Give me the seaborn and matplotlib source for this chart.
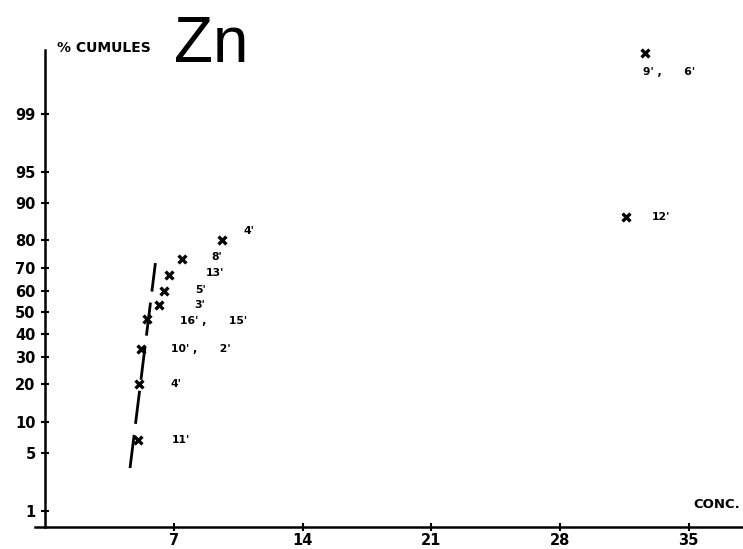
import numpy as np
import matplotlib
matplotlib.use("Agg")
import matplotlib.pyplot as plt
import seaborn as sns
from statistics import NormalDist

sns.set_theme(style="ticks")
plt.rcParams['font.family'] = ['DejaVu Sans']
plt.rcParams['text.color'] = 'black'
plt.rcParams['xtick.color'] = 'black'
plt.rcParams['ytick.color'] = 'black'

# ---- data ----
conc = [5.06, 5.11, 5.22, 5.55, 6.17, 6.46, 6.75, 7.45, 9.6, 31.6, 32.6]
cum_pct = [6.7, 20.0, 33.3, 46.7, 53.3, 60.0, 66.7, 73.3, 80.0, 86.7, 99.88]
point_labels = ["11'", "4'", "10' ,      2'", "16' ,      15'", "3'", "5'", "13'", "8'", "4'",
                "12'", "9' ,      6'"]
fit_x = [4.61, 5.99]
fit_pct = [3.4, 71.8]
y_ticks = [1, 5, 10, 20, 30, 40, 50, 60, 70, 80, 90, 95, 99]
x_ticks = [7, 14, 21, 28, 35]

# label offsets in pixels (dx, dy) - layout only
label_offsets = [(34, 0), (31, 0), (30, 0), (33, -2), (36, 0), (31, 1), (36, 2),
                 (29, 2), (22, 9), (26, 0), (-2, -19)]

ND = NormalDist()
_inv_cdf = np.vectorize(lambda v: ND.inv_cdf(v) if np.isfinite(v) else np.nan,
                        otypes=[float])
_cdf = np.vectorize(lambda v: ND.cdf(v) if np.isfinite(v) else (1.0 if v > 0 else 0.0),
                    otypes=[float])

def fwd(p):
    p = np.asarray(p, dtype=float)
    p = np.where(np.isfinite(p), np.clip(p, 1e-9, 100 - 1e-9), np.nan)
    return _inv_cdf(p / 100.0)

def inv(z):
    z = np.asarray(z, dtype=float)
    return _cdf(z) * 100.0

fig = plt.figure(figsize=(7.43, 5.49), dpi=100)
ax = fig.add_axes([0.0476, 0.0401, 0.951, 0.869])
ax.set_yscale('function', functions=(fwd, inv))
ax.set_xlim(-0.54, 37.9)
ax.set_ylim(0.592, 99.895)

sns.lineplot(x=fit_x, y=fit_pct, ax=ax, color='black', lw=2.0, sort=False,
             errorbar=None)
ax.lines[-1].set_dashes((12, 4))
sns.scatterplot(x=conc, y=cum_pct, ax=ax, marker='x', s=32, color='black',
                linewidth=2.4, clip_on=False, zorder=5)

for x, y, lab, (dx, dy) in zip(conc, cum_pct, point_labels, label_offsets):
    ax.annotate(lab, (x, y), xytext=(dx, dy), textcoords='offset pixels',
                ha='left', va='center', fontsize=7.8, fontweight='bold',
                color='black', annotation_clip=False)

for s in ['top', 'right']:
    ax.spines[s].set_visible(False)
for s in ['left', 'bottom']:
    ax.spines[s].set_color('black')
    ax.spines[s].set_linewidth(1.8)
ax.spines['left'].set_position(('data', 0))

ax.set_yticks(y_ticks)
ax.set_yticklabels([str(t) for t in y_ticks])
ax.yaxis.set_minor_locator(matplotlib.ticker.NullLocator())
ax.set_xticks(x_ticks)
ax.set_xticklabels([str(t) for t in x_ticks])
ax.set_xlim(-0.54, 37.9)
ax.set_ylim(0.592, 99.895)
ax.tick_params(axis='both', which='major', direction='inout', length=6, width=1.5,
               colors='black', labelsize=10.5, left=True, bottom=True)
ax.tick_params(axis='y', pad=4)
ax.tick_params(axis='x', pad=1.5)
for lab in ax.get_xticklabels() + ax.get_yticklabels():
    lab.set_fontweight('bold')
ax.set_xlabel('')
ax.set_ylabel('')
ax.grid(False)

fig.text(57 / 743, 1 - 48 / 549, '% CUMULES', fontsize=10, fontweight='bold',
         ha='left', va='center', color='black')
fig.text(174 / 743, 1 - 62 / 549, 'Zn', fontsize=46, fontfamily='Liberation Sans',
         ha='left', va='baseline', color='black')
fig.text(740 / 743, 1 - 504 / 549, 'CONC.', fontsize=9.5, fontweight='bold',
         ha='right', va='center', color='black')

fig.savefig('out.png', dpi=100, facecolor='white')
